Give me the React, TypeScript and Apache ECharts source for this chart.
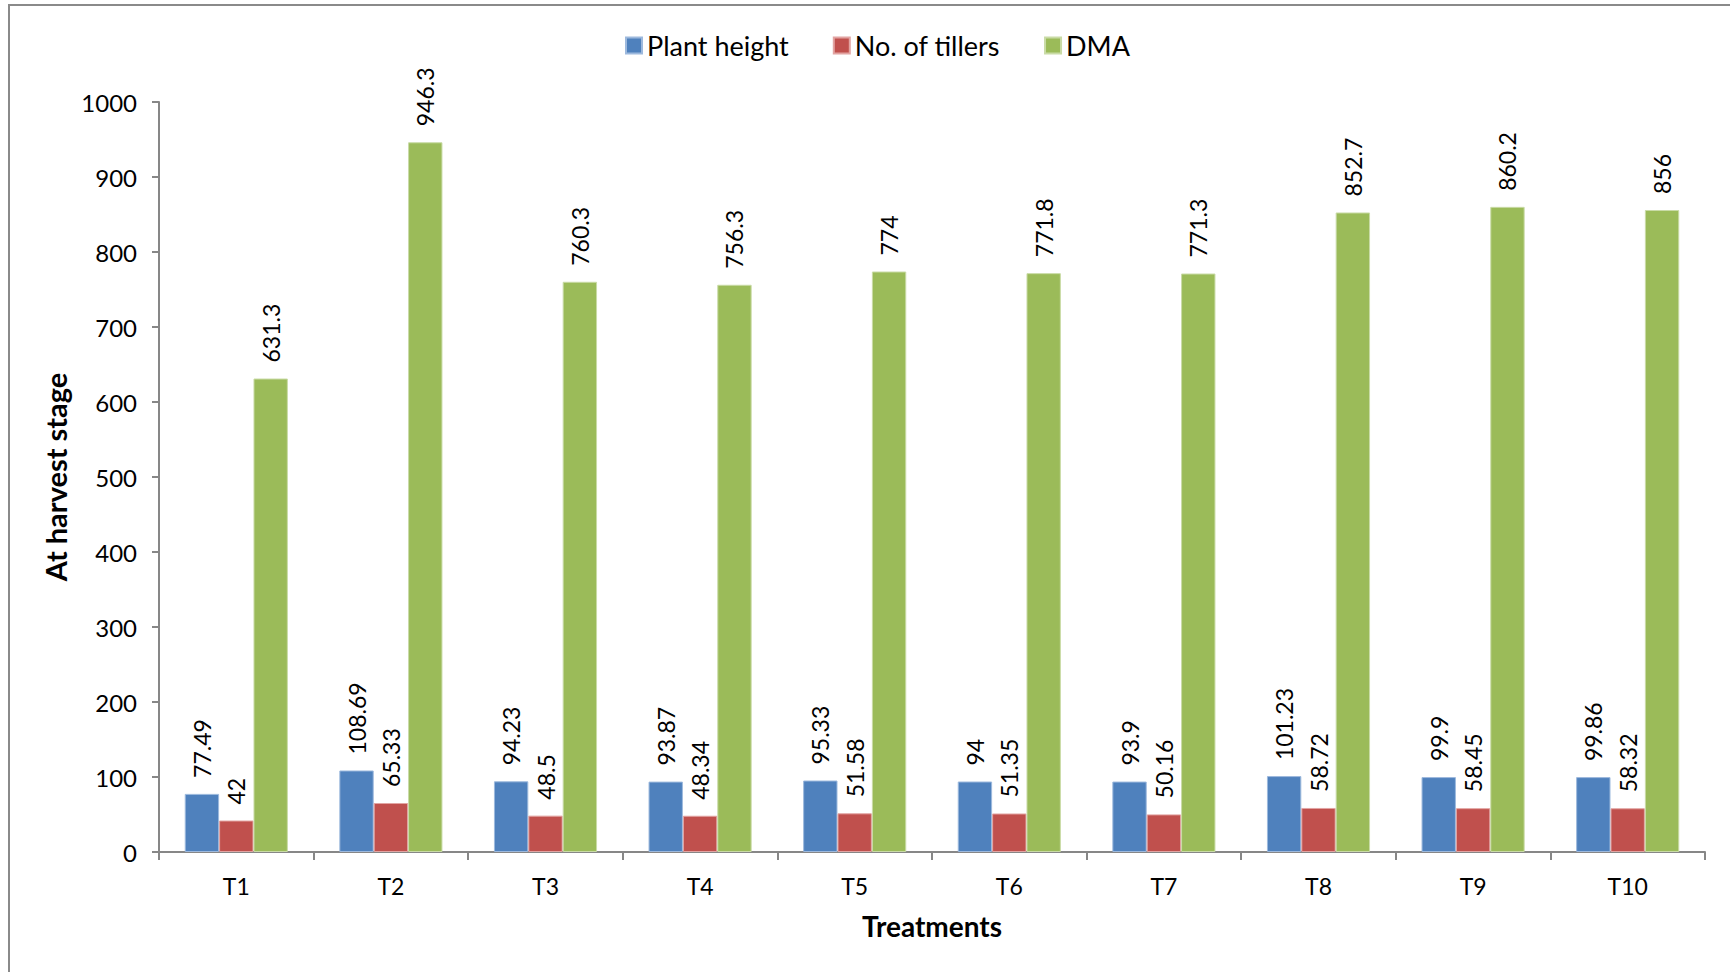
import React, { useEffect, useRef } from "react";
import * as echarts from "echarts";

const treatments = ["T1", "T2", "T3", "T4", "T5", "T6", "T7", "T8", "T9", "T10"];
const plantHeight = [77.49, 108.69, 94.23, 93.87, 95.33, 94, 93.9, 101.23, 99.9, 99.86];
const tillers = [42, 65.33, 48.5, 48.34, 51.58, 51.35, 50.16, 58.72, 58.45, 58.32];
const dma = [631.3, 946.3, 760.3, 756.3, 774, 771.8, 771.3, 852.7, 860.2, 856];

const FONT = "Lato, 'Open Sans', sans-serif";

const labelStyle = {
  show: true,
  position: "top" as const,
  rotate: 90,
  align: "left" as const,
  verticalAlign: "middle" as const,
  distance: 16,
  color: "#000",
  fontFamily: FONT,
  fontSize: 23,
  formatter: (p: any) => String(p.value),
};

export default function App() {
  const ref = useRef<HTMLDivElement>(null);

  useEffect(() => {
    if (!ref.current) return;
    const chart = echarts.init(ref.current, undefined, { renderer: "svg" });
    const axisColor = "#878787";
    chart.setOption({
      animation: false,
      backgroundColor: "#fff",
      textStyle: { fontFamily: FONT },
      graphic: [
        {
          type: "rect",
          shape: { x: 9, y: 5, width: 1800, height: 1000 },
          style: { fill: "none", stroke: "#8a8a8a", lineWidth: 2 },
          silent: true,
        },
      ],
      legend: {
        top: 27,
        left: 620,
        itemWidth: 16,
        itemHeight: 16,
        itemGap: 44,
        itemTextGap: 9,
        icon: "rect",
        textStyle: { fontFamily: FONT, fontSize: 27, color: "#000" },
        data: ["Plant height", "No. of tillers", "DMA"],
      },
      grid: { left: 159, right: 25, top: 102, bottom: 120, containLabel: false },
      xAxis: {
        type: "category",
        data: treatments,
        name: "Treatments",
        nameLocation: "middle",
        nameGap: 60,
        nameTextStyle: { fontFamily: FONT, fontSize: 28, fontWeight: "bold", color: "#000" },
        axisLine: { show: true, lineStyle: { color: axisColor, width: 2 } },
        axisTick: { show: true, length: 8, lineStyle: { color: axisColor, width: 2 } },
        axisLabel: { color: "#000", fontFamily: FONT, fontSize: 23, margin: 22 },
        splitLine: { show: false },
      },
      yAxis: {
        type: "value",
        min: 0,
        max: 1000,
        interval: 100,
        name: "At harvest stage",
        nameLocation: "middle",
        nameGap: 83,
        nameRotate: 90,
        nameTextStyle: { fontFamily: FONT, fontSize: 29, fontWeight: "bold", color: "#000" },
        axisLine: { show: true, lineStyle: { color: axisColor, width: 2 } },
        axisTick: { show: true, length: 7, lineStyle: { color: axisColor, width: 2 } },
        axisLabel: {
          color: "#000",
          fontFamily: FONT,
          fontSize: 24,
          margin: 22,
          formatter: (v: number) => String(v),
        },
        splitLine: { show: false },
      },
      series: [
        {
          name: "Plant height",
          type: "bar",
          data: plantHeight,
          barGap: "0%",
          barCategoryGap: "33.3%",
          itemStyle: { color: "#4F81BD", borderColor: "#9DB9DD", borderWidth: 1 },
          label: labelStyle,
        },
        {
          name: "No. of tillers",
          type: "bar",
          data: tillers,
          barGap: "0%",
          barCategoryGap: "33.3%",
          itemStyle: { color: "#C0504D", borderColor: "#E2A4A2", borderWidth: 1 },
          label: labelStyle,
        },
        {
          name: "DMA",
          type: "bar",
          data: dma,
          barGap: "0%",
          barCategoryGap: "33.3%",
          itemStyle: { color: "#9BBB59", borderColor: "#C9DBA6", borderWidth: 1 },
          label: labelStyle,
        },
      ],
    });
    return () => chart.dispose();
  }, []);

  return (
    <div
      ref={ref}
      style={{ position: "fixed", left: 0, top: 0, width: 1730, height: 972, background: "#fff" }}
    />
  );
}
